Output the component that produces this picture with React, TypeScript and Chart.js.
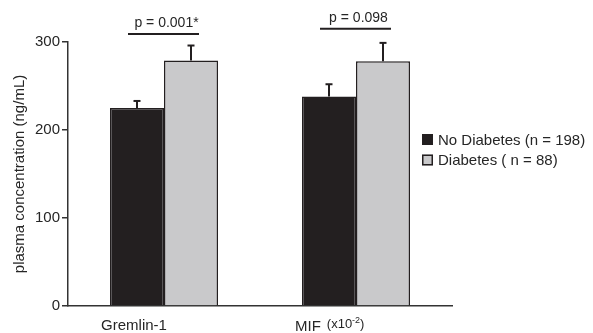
import React, { useEffect, useRef } from "react";
import { Chart, registerables } from "chart.js";

Chart.register(...registerables);

const categories = ["Gremlin-1", "MIF"];
const unitBase = ["", "(x10"];
const unitExp = ["", "-2"];
const unitClose = ["", ")"];
const seriesLabels = ["No Diabetes (n = 198)", "Diabetes ( n = 88)"];
const noDiabetes = [225, 238];
const diabetes = [279, 278];
const noDiabetesErr = [8, 14];
const diabetesErr = [17, 21];
const pLabels = ["p = 0.001*", "p = 0.098"];
const pLevels = [309, 315];
const yTickValues = [0, 100, 200, 300];

const FONT = '"Liberation Sans", Arial, Helvetica, sans-serif';
const INK = "#231f20";
const TEXT = "#262626";
const GRAY = "#c9c9cb";

const overlay = {
  id: "overlay",
  afterDatasetsDraw(chart: any) {
    const ctx = chart.ctx;
    const ys = chart.scales.y;
    const xs = chart.scales.x;
    const errs = [noDiabetesErr, diabetesErr];
    ctx.save();
    // error bars
    chart.data.datasets.forEach((ds: any, di: number) => {
      const meta = chart.getDatasetMeta(di);
      meta.data.forEach((bar: any, i: number) => {
        const top = ys.getPixelForValue(ds.data[i] + errs[di][i]);
        ctx.strokeStyle = INK;
        ctx.lineWidth = 2;
        ctx.beginPath();
        ctx.moveTo(bar.x, bar.y);
        ctx.lineTo(bar.x, top);
        ctx.stroke();
        ctx.beginPath();
        ctx.moveTo(bar.x - 3.5, top);
        ctx.lineTo(bar.x + 3.5, top);
        ctx.stroke();
      });
    });
    // significance annotations
    const m0 = chart.getDatasetMeta(0);
    const m1 = chart.getDatasetMeta(1);
    categories.forEach((_c, i) => {
      const x0 = m0.data[i].x - 9;
      const x1 = m1.data[i].x + 8;
      const py = ys.getPixelForValue(pLevels[i]);
      ctx.strokeStyle = INK;
      ctx.lineWidth = 2;
      ctx.beginPath();
      ctx.moveTo(x0, py);
      ctx.lineTo(x1, py);
      ctx.stroke();
      ctx.fillStyle = TEXT;
      ctx.font = `14px ${FONT}`;
      ctx.textAlign = "center";
      ctx.textBaseline = "middle";
      ctx.fillText(pLabels[i], (x0 + x1) / 2 + 3, py - 10.5);
    });
    // category labels
    ctx.fillStyle = TEXT;
    ctx.textBaseline = "alphabetic";
    categories.forEach((c, i) => {
      const cx = xs.getPixelForValue(i);
      if (!unitBase[i]) {
        ctx.font = `15px ${FONT}`;
        ctx.textAlign = "center";
        ctx.fillText(c, cx - 30, 330);
      } else {
        let x = cx - 61;
        ctx.textAlign = "left";
        ctx.font = `15px ${FONT}`;
        ctx.fillText(c, x, 331);
        x += ctx.measureText(c).width + 6;
        ctx.font = `13px ${FONT}`;
        ctx.fillText(unitBase[i], x, 328);
        x += ctx.measureText(unitBase[i]).width;
        ctx.font = `9px ${FONT}`;
        ctx.fillText(unitExp[i], x, 323);
        x += ctx.measureText(unitExp[i]).width;
        ctx.font = `13px ${FONT}`;
        ctx.fillText(unitClose[i], x, 328);
      }
    });
    // legend
    const lx = chart.chartArea.right - 30;
    const rows = [134, 154.5];
    chart.data.datasets.forEach((ds: any, di: number) => {
      const ly = rows[di];
      ctx.fillStyle = ds.backgroundColor;
      ctx.fillRect(lx, ly, 11, 11);
      ctx.strokeStyle = INK;
      ctx.lineWidth = 1.5;
      ctx.strokeRect(lx + 0.75, ly + 0.75, 9.5, 9.5);
      ctx.fillStyle = TEXT;
      ctx.font = `15px ${FONT}`;
      ctx.textAlign = "left";
      ctx.textBaseline = "middle";
      ctx.fillText(ds.label, lx + 16, ly + 6.5);
    });
    ctx.restore();
  },
};

export default function App() {
  const ref = useRef<HTMLCanvasElement | null>(null);
  useEffect(() => {
    if (!ref.current) return;
    const chart = new Chart(ref.current, {
      type: "bar",
      data: {
        labels: categories,
        datasets: [
          {
            label: seriesLabels[0],
            data: noDiabetes,
            backgroundColor: INK,
            borderColor: INK,
            borderWidth: 1.5,
          },
          {
            label: seriesLabels[1],
            data: diabetes,
            backgroundColor: GRAY,
            borderColor: INK,
            borderWidth: 1.5,
          },
        ],
      },
      options: {
        responsive: false,
        animation: false,
        events: [],
        layout: { padding: { top: 42, right: 141, left: 0, bottom: 0 } },
        datasets: { bar: { barPercentage: 1, categoryPercentage: 0.5625 } },
        plugins: { legend: { display: false }, tooltip: { enabled: false } },
        scales: {
          x: {
            ticks: { display: false },
            grid: { display: false, drawTicks: false },
            border: { display: true, color: "#333", width: 1.5 },
            afterFit: (s: any) => {
              s.height = 27;
            },
          },
          y: {
            min: 0,
            max: 300,
            afterBuildTicks: (s: any) => {
              s.ticks = yTickValues.map((v) => ({ value: v }));
            },
            ticks: {
              padding: 2,
              color: TEXT,
              font: { family: FONT, size: 15 },
            },
            grid: {
              display: true,
              drawOnChartArea: false,
              drawTicks: true,
              tickLength: 6,
              color: "#333",
              lineWidth: 1.5,
            },
            border: { display: true, color: "#333", width: 1.5 },
            title: {
              display: true,
              text: "plasma concentration (ng/mL)",
              color: TEXT,
              font: { family: FONT, size: 15 },
              padding: { top: 11, bottom: 0 },
            },
            afterFit: (s: any) => {
              s.width = 68;
            },
          },
        },
      },
      plugins: [overlay],
    });
    return () => chart.destroy();
  }, []);
  return (
    <div style={{ position: "absolute", left: 0, top: 0, width: 593, height: 333, background: "#fff" }}>
      <canvas ref={ref} width={593} height={333} />
    </div>
  );
}
